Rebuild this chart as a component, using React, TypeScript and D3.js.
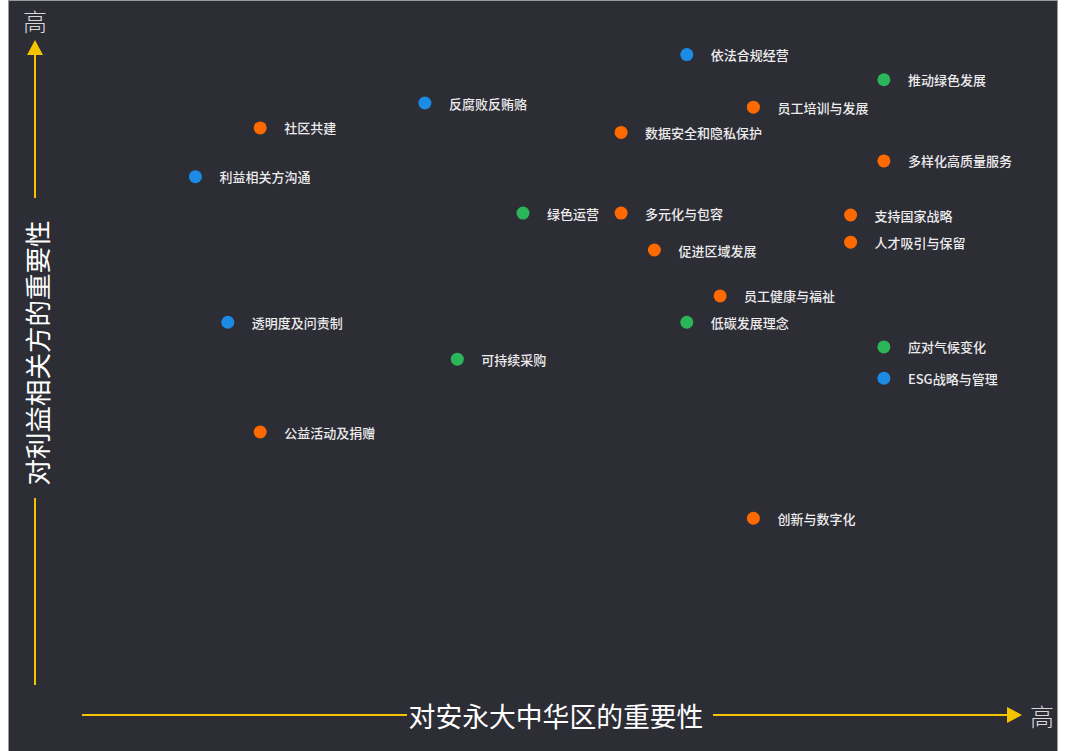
import React from "react";
import * as d3 from "d3";

// Topic names, categories, and scores
const topics = [
  "依法合规经营", "推动绿色发展", "员工培训与发展", "反腐败反贿赂", "社区共建",
  "数据安全和隐私保护", "多样化高质量服务", "利益相关方沟通", "绿色运营", "多元化与包容",
  "支持国家战略", "人才吸引与保留", "促进区域发展", "员工健康与福祉", "透明度及问责制",
  "低碳发展理念", "应对气候变化", "ESG战略与管理", "可持续采购", "公益活动及捐赠", "创新与数字化",
];
const categories = [
  "governance", "environment", "social", "governance", "social",
  "social", "social", "governance", "environment", "social",
  "social", "social", "social", "social", "governance",
  "environment", "environment", "governance", "environment", "social", "social",
];
// importance to EY Greater China (x) and to stakeholders (y), 0-100
const xScores = [
  65.2, 87.1, 72.6, 36.1, 17.8,
  57.9, 87.1, 10.6, 47.0, 57.9,
  83.4, 83.4, 61.6, 68.9, 14.2,
  65.2, 87.1, 87.1, 39.7, 17.8, 72.6,
];
const yScores = [
  97.4, 92.9, 88.0, 88.75, 84.3,
  83.5, 78.4, 75.6, 69.1, 69.1,
  68.75, 63.9, 62.5, 54.3, 49.6,
  49.6, 45.2, 39.6, 43.0, 30.0, 14.6,
];
const categoryKeys = ["governance", "environment", "social"];
const categoryColors = ["#1c8be6", "#2bb65a", "#ff6a00"];

const xTitle = "对安永大中华区的重要性";
const yTitle = "对利益相关方的重要性";
const highLabel = "高";

export default function App() {
  const W = 1050;
  const H = 752;
  const x = d3.scaleLinear().domain([0, 100]).range([92, 992]);
  const y = d3.scaleLinear().domain([0, 100]).range([600, 40]);
  const color = d3.scaleOrdinal<string, string>().domain(categoryKeys).range(categoryColors);
  const font = "'Noto Sans CJK SC', 'Noto Sans', sans-serif";
  const yellow = "#f5c400";

  const ax = 27; // y-axis x (svg coords)
  const ay = 715; // x-axis y

  return (
    <svg
      width={W}
      height={H}
      style={{ position: "absolute", left: 8, top: 0, display: "block" }}
      fontFamily={font}
    >
      <rect x={0.5} y={0.5} width={W - 1} height={H + 5} fill="#2d2d36" stroke="#9a9a9a" strokeWidth={1} />

      {/* Y axis */}
      <line x1={ax} x2={ax} y1={685} y2={498} stroke={yellow} strokeWidth={2} />
      <line x1={ax} x2={ax} y1={198} y2={54} stroke={yellow} strokeWidth={2} />
      <path d={`M${ax - 8},55 L${ax + 8},55 L${ax},40 Z`} fill={yellow} />
      <text
        transform={`translate(${ax + 1},${353}) rotate(-90)`}
        textAnchor="middle"
        dominantBaseline="central"
        fill="#ffffff"
        fontSize={26.5}
      >
        {yTitle}
      </text>
      <text x={ax} y={20} textAnchor="middle" dominantBaseline="central" fill="#d8d8d8" fontSize={24} fontWeight={300}>
        {highLabel}
      </text>

      {/* X axis */}
      <line x1={74} x2={399} y1={ay} y2={ay} stroke={yellow} strokeWidth={2} />
      <line x1={705} x2={1000} y1={ay} y2={ay} stroke={yellow} strokeWidth={2} />
      <path d={`M999,${ay - 8} L999,${ay + 8} L1014,${ay} Z`} fill={yellow} />
      <text x={548} y={ay} textAnchor="middle" dominantBaseline="central" fill="#ffffff" fontSize={26.8}>
        {xTitle}
      </text>
      <text x={1034} y={ay} textAnchor="middle" dominantBaseline="central" fill="#d8d8d8" fontSize={24} fontWeight={300}>
        {highLabel}
      </text>

      {/* Points */}
      {topics.map((t, i) => {
        const cx = x(xScores[i]);
        const cy = y(yScores[i]);
        return (
          <g key={t}>
            <circle cx={cx} cy={cy} r={6.5} fill={color(categories[i])} />
            <text x={cx + 24} y={cy} dominantBaseline="central" fill="#ececec" fontSize={13} fontWeight={500}>
              {t}
            </text>
          </g>
        );
      })}
    </svg>
  );
}
